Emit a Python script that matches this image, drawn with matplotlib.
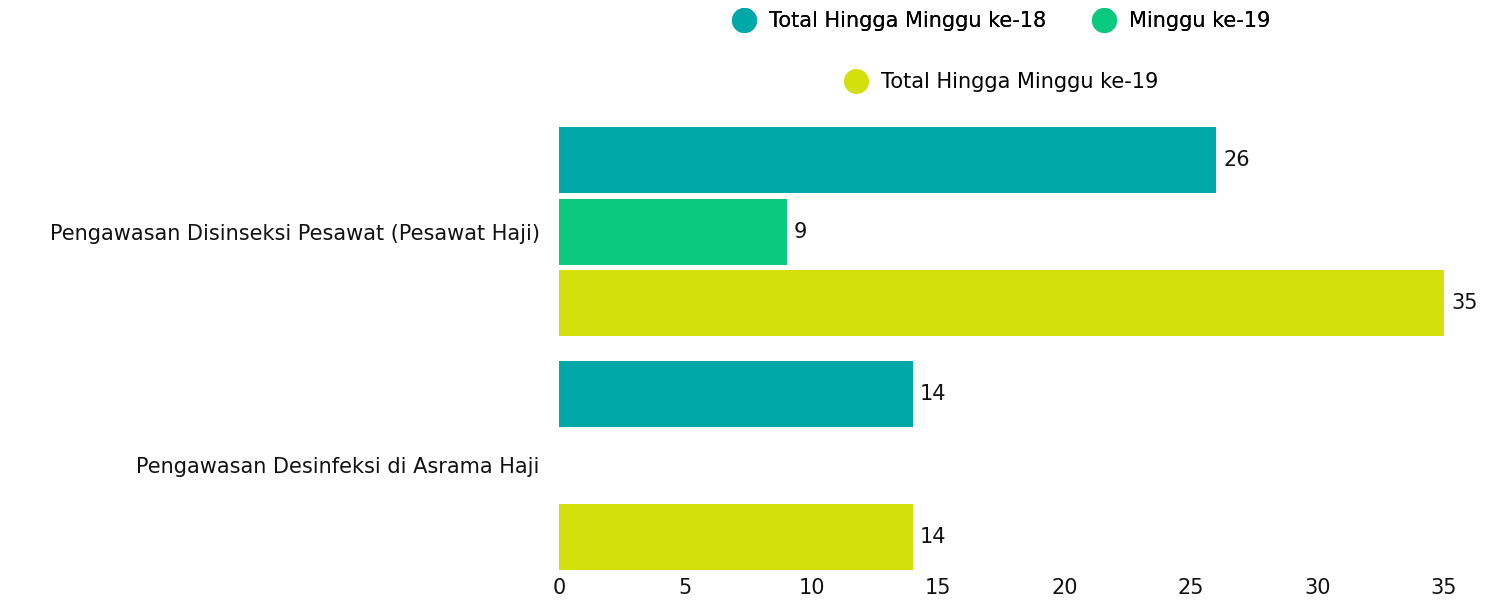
import numpy as np
import matplotlib.pyplot as plt
from matplotlib.lines import Line2D

# data
categories = ["Pengawasan Disinseksi Pesawat (Pesawat Haji)",
              "Pengawasan Desinfeksi di Asrama Haji"]
series_names = ["Total Hingga Minggu ke-18", "Minggu ke-19", "Total Hingga Minggu ke-19"]
total_18 = [26, 14]
minggu_19 = [9, 0]
total_19 = [35, 14]
colors = ["#00A9A8", "#0BC97F", "#D4DF0B"]
xticks = [0, 5, 10, 15, 20, 25, 30, 35]

plt.rcParams["font.family"] = ["DejaVu Sans"]
FS = 15

fig = plt.figure(figsize=(14.94, 6.06), dpi=100)
ax = fig.add_axes([559 / 1494, 36 / 606, 885 / 1494, 443 / 606])

y = np.arange(len(categories))
step = 0.3056
height = 0.282
all_series = [total_18, minggu_19, total_19]
for i, vals in enumerate(all_series):
    pos = y + (i - 1) * step
    ax.barh(pos, vals, height=height, color=colors[i], label=series_names[i])
    for p, v in zip(pos, vals):
        if v > 0:
            ax.annotate(str(v), (v, p), xytext=(5, 0), textcoords="offset points",
                        va="center", ha="left", fontsize=FS, color="#111111")

ax.set_xlim(0, 35)
ax.set_ylim(1.447, -0.447)
ax.set_yticks(y)
ax.set_yticklabels(categories, fontsize=FS, color="#111111")
ax.set_xticks(xticks)
ax.set_xticklabels([str(t) for t in xticks], fontsize=FS, color="#111111")
ax.tick_params(axis="both", length=0)
ax.tick_params(axis="y", pad=14)
ax.tick_params(axis="x", pad=6)
for s in ax.spines.values():
    s.set_visible(False)

handles = [Line2D([0], [0], marker="o", linestyle="", markersize=17,
                  markerfacecolor=c, markeredgecolor=c) for c in colors]
leg1 = fig.legend(handles[:2], series_names[:2], ncol=2, loc="center",
                  bbox_to_anchor=(997 / 1494, 1 - 21 / 606), frameon=False,
                  fontsize=FS, handletextpad=0.2, columnspacing=1.8)
fig.add_artist(leg1)
fig.legend(handles[2:], series_names[2:], loc="center",
           bbox_to_anchor=(997 / 1494, 1 - 82 / 606), frameon=False,
           fontsize=FS, handletextpad=0.2)

fig.savefig("out.png", dpi=100)
